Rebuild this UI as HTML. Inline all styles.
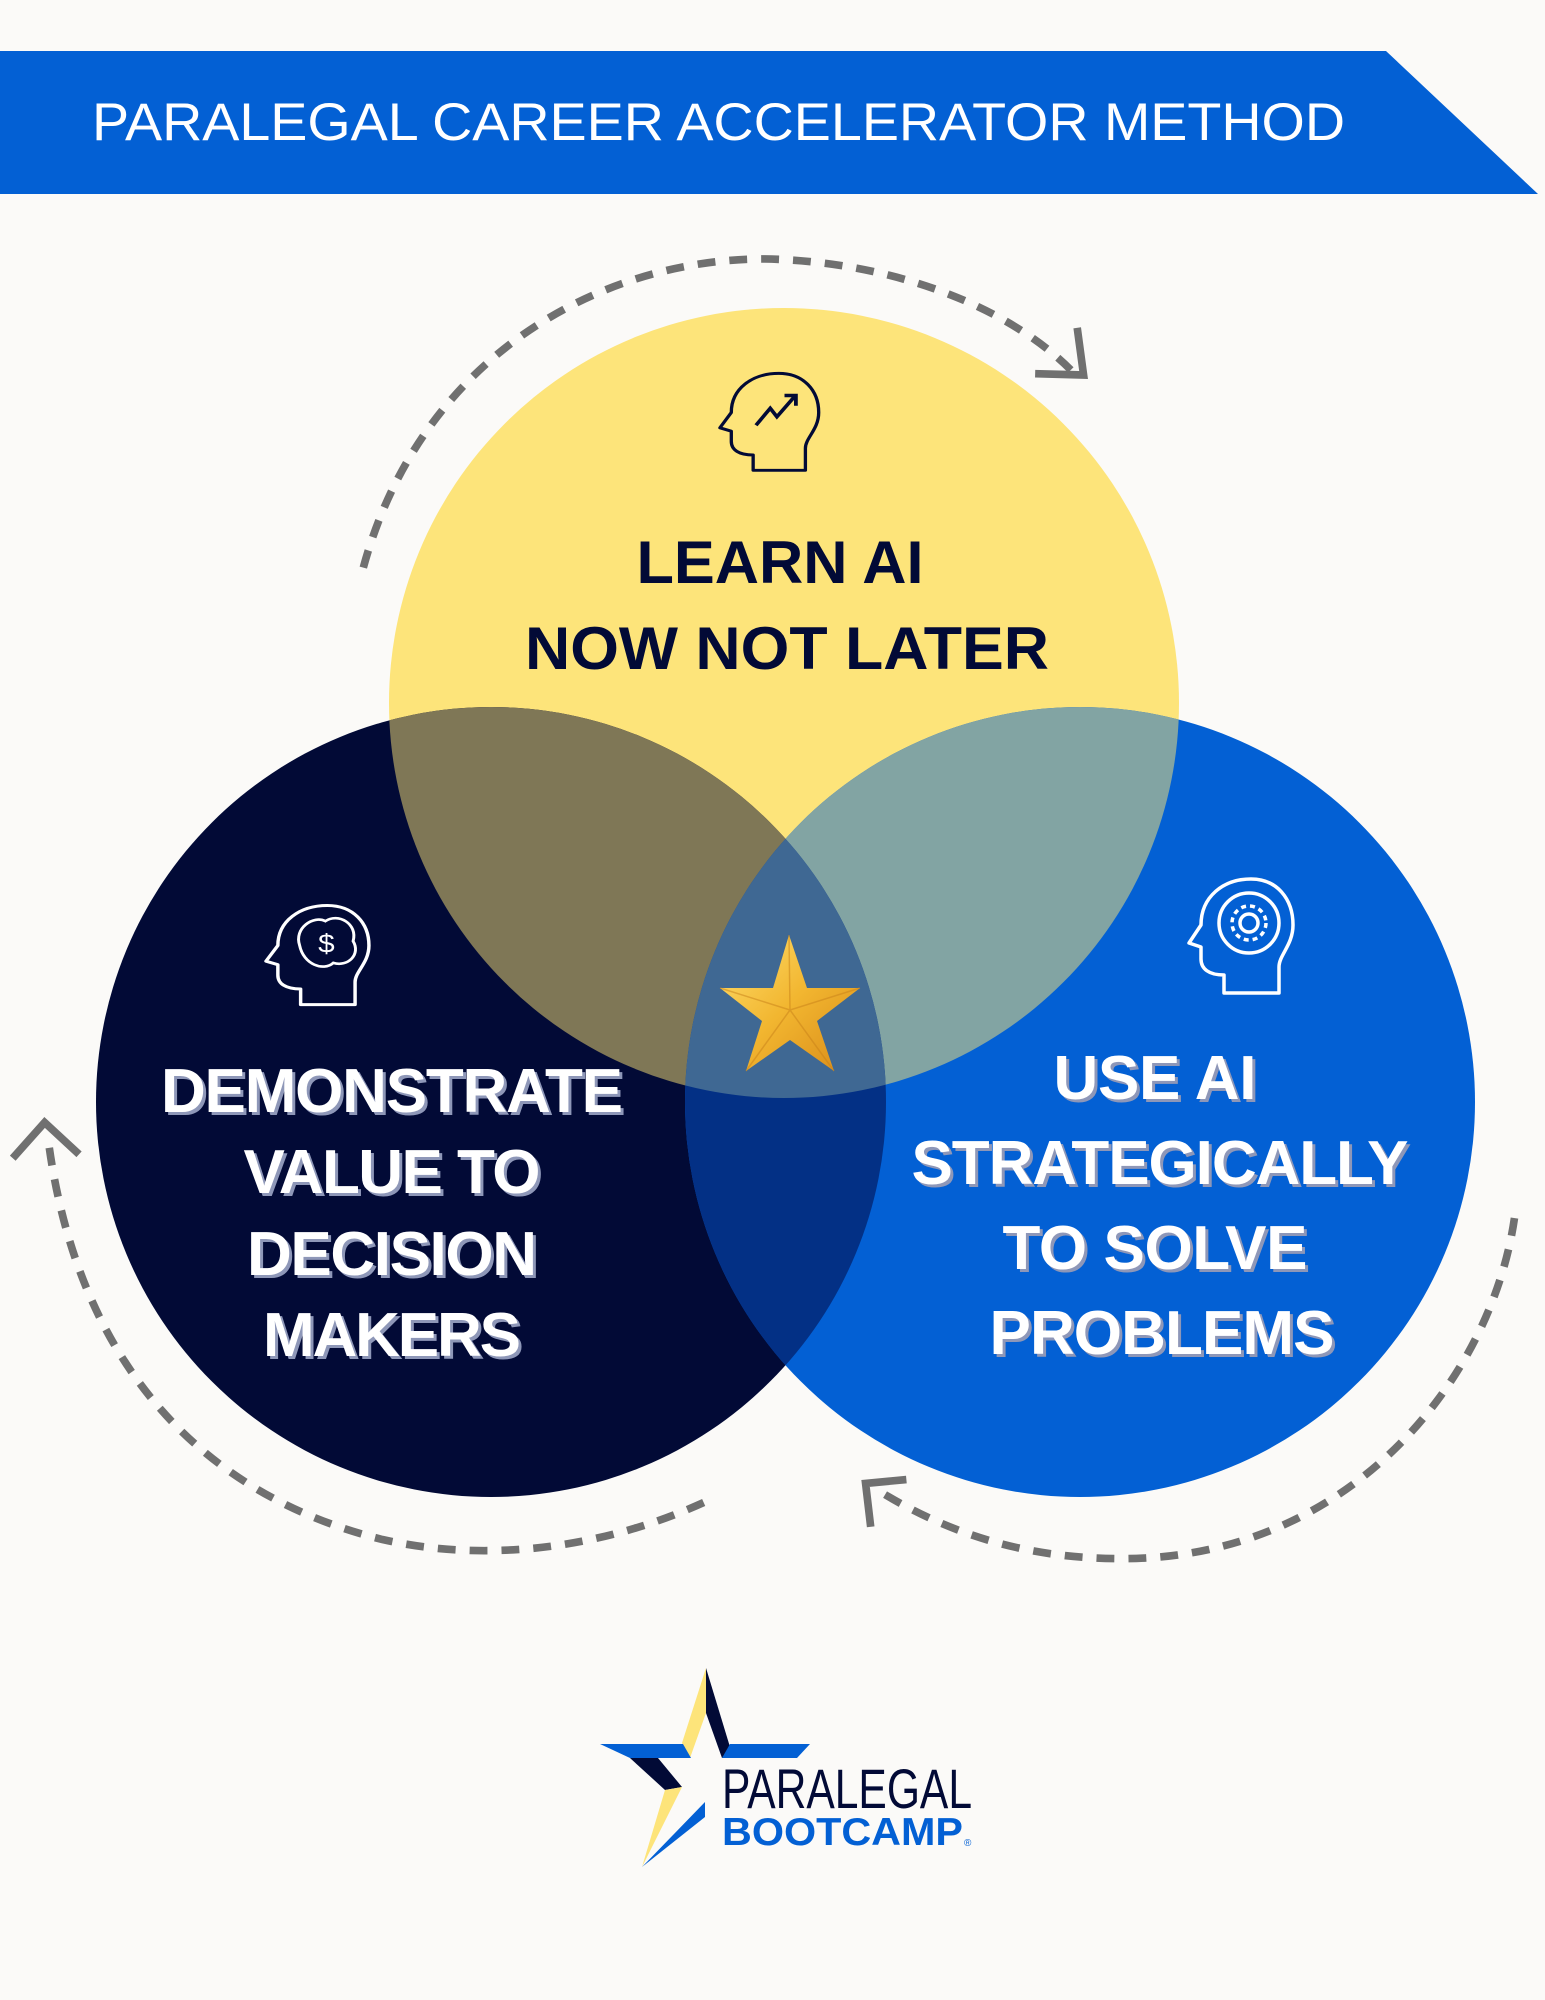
<!DOCTYPE html>
<html><head><meta charset="utf-8"><style>
html,body{margin:0;padding:0;background:#FBFAF8;}
svg{display:block;}
text{font-family:"Liberation Sans",sans-serif;font-weight:bold;}
</style></head><body>
<svg width="1545" height="2000" viewBox="0 0 1545 2000" xmlns="http://www.w3.org/2000/svg">
<defs>
<clipPath id="cy"><circle cx="784" cy="703" r="395"/></clipPath>
<clipPath id="cd"><circle cx="491" cy="1102" r="395"/></clipPath>
<clipPath id="cb"><circle cx="1080" cy="1102" r="395"/></clipPath>
<linearGradient id="gold" x1="0" y1="0" x2="1" y2="1">
<stop offset="0" stop-color="#FFE070"/><stop offset="0.5" stop-color="#F2B630"/><stop offset="1" stop-color="#D88A18"/></linearGradient>
<path id="head" d="M37,118 L37,100 C22,100 14,94 14,84 L14,72 L2,68 L14,50 C14,22 36,4 64,4 C90,4 106,24 106,50 C106,70 92,80 92,92 L92,118 Z" fill="none" stroke-width="3.5" stroke-linejoin="round"/>
</defs>
<rect width="1545" height="2000" fill="#FBFAF8"/>
<polygon points="0,51 1386,51 1538,194 0,194" fill="#0360D4"/>
<text x="92" y="140" font-size="53" fill="#fff" textLength="1253" lengthAdjust="spacingAndGlyphs" style="font-weight:normal">PARALEGAL CAREER ACCELERATOR METHOD</text>

<circle cx="784" cy="703" r="395" fill="#FDE47A"/>
<circle cx="491" cy="1102" r="395" fill="#020A36"/>
<circle cx="1080" cy="1102" r="395" fill="#0360D4"/>
<g clip-path="url(#cy)"><circle cx="491" cy="1102" r="395" fill="#7F7756"/><circle cx="1080" cy="1102" r="395" fill="#82A4A3"/></g>
<g clip-path="url(#cd)"><circle cx="1080" cy="1102" r="395" fill="#033085"/></g>
<g clip-path="url(#cd)"><g clip-path="url(#cb)"><circle cx="784" cy="703" r="395" fill="#3F6893"/></g></g>

<g transform="scale(1.2748,1.2755)" fill="none" stroke="#707070" stroke-width="6">
<path d="M285,445 C330,280 470,203 600,203 C700,205 790,240 840,290" stroke-dasharray="14 11"/>
<polyline points="812,293 850,294 845,257"/>
<path d="M552,1178 C470,1215 380,1225 300,1207 C150,1170 60,1060 38,895" stroke-dasharray="14 11"/>
<polyline points="10,908 35,880 62,905"/>
<path d="M1188,955 C1170,1080 1060,1222 880,1222 C800,1222 740,1200 688,1168" stroke-dasharray="14 11"/>
<polyline points="683,1197 679,1163 711,1160"/>
</g>

<g transform="translate(718,370) scale(0.95,0.85)" stroke="#020A36"><use href="#head"/>
<polyline points="40,65 55,45 62,55 80,32" fill="none" stroke="#020A36" stroke-width="4"/><polyline points="70,30 82,30 82,42" fill="none" stroke="#020A36" stroke-width="4"/></g>
<g transform="translate(264,902) scale(0.99,0.87)" stroke="#fff"><use href="#head"/>
<path d="M36,50 C30,30 50,15 62,22 C75,12 95,25 90,45 C98,60 85,75 70,70 C60,80 40,72 36,50 Z" fill="none" stroke="#fff" stroke-width="3"/>
<text x="63" y="58" font-size="30" fill="#fff" stroke="none" text-anchor="middle" style="font-weight:normal">$</text></g>
<g transform="translate(1187,875)" stroke="#fff"><use href="#head"/>
<circle cx="62" cy="48" r="30" fill="none" stroke-width="3.5"/>
<circle cx="62" cy="48" r="17" fill="none" stroke-width="3.5" stroke-dasharray="5 4"/>
<circle cx="62" cy="48" r="9" fill="none" stroke-width="3.5"/></g>

<polygon points="789,935 807,988 860,988 817,1021 834,1071 790,1040 746,1071 762,1021 720,988 773,988" fill="url(#gold)"/>
<path d="M789,935 L790,1010 M720,988 L790,1010 M860,988 L790,1010 M746,1071 L790,1010 M834,1071 L790,1010" stroke="#C9821A" stroke-width="1.5" opacity="0.5"/>

<text x="780" y="583" font-size="60" fill="#020A36" text-anchor="middle" textLength="287" lengthAdjust="spacingAndGlyphs">LEARN AI</text>
<text x="787" y="669" font-size="60" fill="#020A36" text-anchor="middle" textLength="524" lengthAdjust="spacingAndGlyphs">NOW NOT LATER</text>

<g font-size="62" text-anchor="middle" lengthAdjust="spacingAndGlyphs">
<g fill="#8E97B8" transform="translate(3,3)">
<text x="392" y="1112" textLength="462">DEMONSTRATE</text>
<text x="392" y="1193" textLength="297">VALUE TO</text>
<text x="392" y="1275" textLength="290">DECISION</text>
<text x="392" y="1356" textLength="258">MAKERS</text>
<text x="1155" y="1099" textLength="203">USE AI</text>
<text x="1160" y="1184" textLength="497">STRATEGICALLY</text>
<text x="1155" y="1269" textLength="305">TO SOLVE</text>
<text x="1162" y="1354" textLength="345">PROBLEMS</text>
</g>
<g fill="#fff">
<text x="392" y="1112" textLength="462">DEMONSTRATE</text>
<text x="392" y="1193" textLength="297">VALUE TO</text>
<text x="392" y="1275" textLength="290">DECISION</text>
<text x="392" y="1356" textLength="258">MAKERS</text>
<text x="1155" y="1099" textLength="203">USE AI</text>
<text x="1160" y="1184" textLength="497">STRATEGICALLY</text>
<text x="1155" y="1269" textLength="305">TO SOLVE</text>
<text x="1162" y="1354" textLength="345">PROBLEMS</text>
</g></g>

<polygon points="706,1668 706,1713 690,1758 682,1743" fill="#FDE47A"/>
<polygon points="706,1668 730,1747 722,1758 706,1713" fill="#020A36"/>
<polygon points="600,1744 683,1744 691,1758 630,1758" fill="#0360D4"/>
<polygon points="730,1744 810,1744 797,1758 722,1758" fill="#0360D4"/>
<polygon points="630,1758 658,1758 682,1787 665,1790" fill="#020A36"/>
<polygon points="665,1790 682,1787 642,1867" fill="#FDE47A"/>
<polygon points="705,1802 705,1817 642,1867" fill="#0360D4"/>
<text x="722" y="1808" font-size="56" fill="#020A36" style="font-weight:normal" textLength="250" lengthAdjust="spacingAndGlyphs">PARALEGAL</text>
<text x="722" y="1845" font-size="39" fill="#0360D4" textLength="241" lengthAdjust="spacingAndGlyphs">BOOTCAMP</text>
<text x="964" y="1846" font-size="10" fill="#0360D4" style="font-weight:normal">®</text>
</svg>
</body></html>
